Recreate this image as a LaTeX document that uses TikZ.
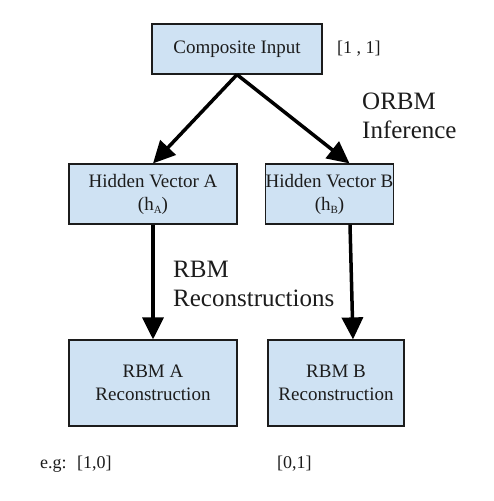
\documentclass[tikz,border=0pt]{standalone}
\usepackage{fontspec}
\setmainfont{Liberation Serif}
\usetikzlibrary{arrows.meta}
\definecolor{boxblue}{HTML}{CFE2F3}
\definecolor{inkgray}{HTML}{1C1C1C}
\newcommand{\lowsub}[1]{\raisebox{-3.5pt}{\fontsize{11}{11}\selectfont #1}}

\begin{document}
\begin{tikzpicture}[x=1pt, y=-1pt,
  block/.style={rectangle, draw=inkgray, fill=boxblue, line width=1.2pt, align=center, inner sep=0pt, text=inkgray, font=\fontsize{19}{23}\selectfont},
  flow/.style={line width=3.5pt, -{Triangle[length=22pt, width=21pt]}},
  note/.style={anchor=west, inner sep=0pt, text=inkgray, font=\fontsize{18}{22}\selectfont},
  tag/.style={anchor=west, align=left, inner sep=0pt, text=inkgray, font=\fontsize{25}{29}\selectfont}]
  \useasboundingbox (0,0) rectangle (493,501);
  % Nodes
  \node (input) [block, minimum width=170pt, minimum height=50pt] at (237, 49) {Composite Input};
  \node (hidA) [block, minimum width=168pt, minimum height=60pt] at (153, 194) {Hidden Vector A\\(h\lowsub{A})};
  \node (hidB) [block, minimum width=127pt, minimum height=60pt] at (329.5, 194) {Hidden Vector B\\(h\lowsub{B})};
  \node (rbmA) [block, minimum width=168pt, minimum height=86pt] at (153, 383) {RBM A\\Reconstruction};
  \node (rbmB) [block, minimum width=136pt, minimum height=86pt] at (336, 383) {RBM B\\Reconstruction};
  \node (inval) [note] at (337, 49) {[1 , 1]};
  \node (orbm) [tag] at (362, 116) {ORBM\\Inference};
  \node (recon) [tag] at (173, 284) {RBM\\Reconstructions};
  \node (egA) [note] at (40, 464) {e.g:~ [1,0]};
  \node (egB) [note] at (277, 464) {[0,1]};
  % Arrow
  \draw[flow] (input.south) -- (hidA.north);
  \draw[flow] (input.south) -- ([xshift=20pt]hidB.north);
  \draw[flow] (hidA.south) -- (rbmA.north);
  \draw[flow] ([xshift=20.5pt]hidB.south) -- ([xshift=17pt]rbmB.north);
\end{tikzpicture}
\end{document}
